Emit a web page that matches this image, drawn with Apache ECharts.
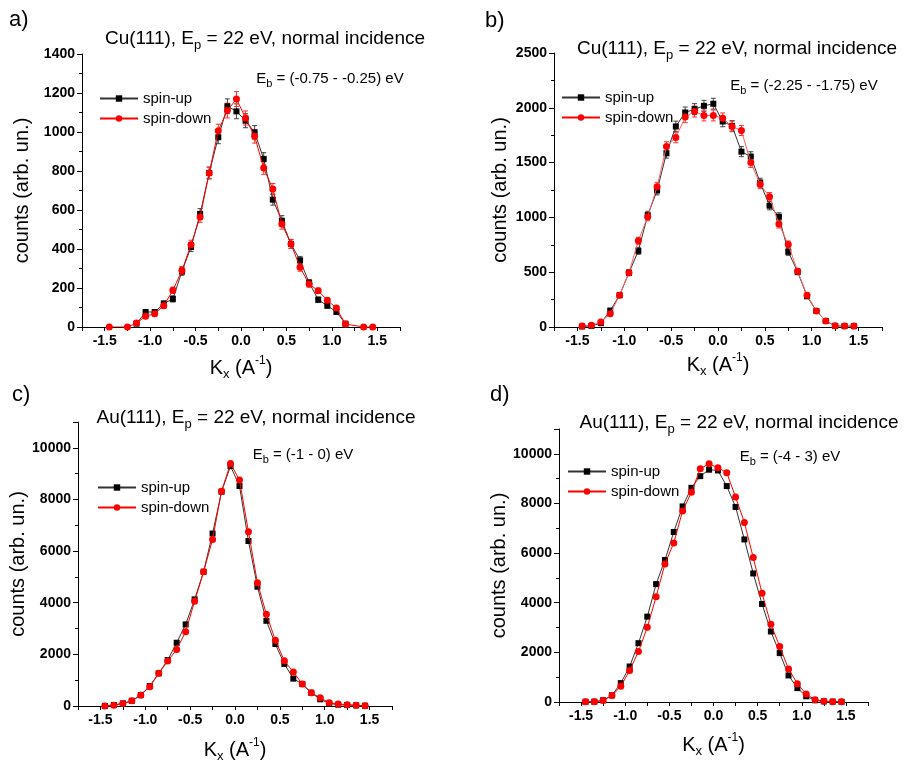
<!DOCTYPE html>
<html><head><meta charset="utf-8">
<script src="https://cdn.jsdelivr.net/npm/echarts@6/dist/echarts.min.js"></script>
<style>html,body{margin:0;padding:0;background:#fff}#c{width:911px;height:768px}</style>
</head><body><div id="c"></div><script>
// K_x sample positions (A^-1)
const xs = [-1.45,-1.35,-1.25,-1.15,-1.05,-0.95,-0.85,-0.75,-0.65,-0.55,-0.45,-0.35,-0.25,-0.15,-0.05,0.05,0.15,0.25,0.35,0.45,0.55,0.65,0.75,0.85,0.95,1.05,1.15,1.25,1.35,1.45];

// a) Cu(111), Eb = (-0.75 - -0.25) eV
const upA   = [null,null,null,17,77,77,120,144,285,410,580,790,973,1132,1106,1058,998,862,653,545,426,342,227,140,109,77,17,null,null,null];
const downA = [0,null,0,20,55,68,109,188,290,422,564,790,1007,1110,1169,1072,978,815,708,528,426,306,220,186,137,97,15,null,0,0];
const errA  = [3,3,3,6,12,12,14,16,20,23,27,30,33,38,38,36,35,32,28,26,23,20,16,14,12,10,6,3,3,3];

// b) Cu(111), Eb = (-2.25 - -1.75) eV
const upB   = [5,10,35,150,290,495,695,1020,1245,1585,1830,1957,1988,2018,2037,1875,1835,1600,1555,1317,1107,1006,686,503,280,146,55,10,8,8];
const downB = [10,15,45,120,290,495,787,1006,1280,1646,1729,1915,1966,1930,1930,1905,1830,1793,1500,1302,1189,939,753,509,290,146,55,12,10,8];
const errB  = [5,5,8,14,20,26,32,36,40,44,48,50,50,50,50,48,48,46,44,40,38,36,32,26,20,14,8,5,5,5];

// c) Au(111), Eb = (-1 - 0) eV
const upC   = [0,40,100,200,430,775,1265,1780,2450,3160,4130,5200,6680,8300,9290,8520,6390,4620,3300,2400,1630,1060,850,515,260,100,50,40,25,10];
const downC = [0,30,100,200,420,750,1270,1740,2190,2880,4060,5200,6450,8320,9390,8750,6750,4770,3550,2550,1750,1320,850,515,320,130,75,50,25,10];

// d) Au(111), Eb = (-4 - 3) eV
const upD   = [10,15,70,270,760,1430,2370,3440,4750,5720,6850,7880,8630,9100,9360,9330,8700,7860,6550,5180,3950,2840,1970,1070,560,230,70,25,15,10];
const downD = [10,15,60,260,630,1270,2030,3010,4240,5560,6410,7700,8450,9400,9600,9440,9240,8260,7230,5820,4380,3130,2240,1330,740,320,90,30,15,10];

const seriesNames = ['spin-up','spin-down'];
const panelLabels = ['a)','b)','c)','d)'];
const surfaces = ['Cu(111)','Cu(111)','Au(111)','Au(111)'];
const ebTexts = ['(-0.75 - -0.25) eV','(-2.25 - -1.75) eV','(-1 - 0) eV','(-4 - 3) eV'];
const yTickMax = [1400, 2500, 11000, 11000];
const yTickStep = [200, 500, 2000, 2000];

const FF = '"Liberation Sans", Arial, Helvetica, sans-serif';

const layout = [
  {grid:{left:82,top:54,width:318,height:273}, lab:[9,20], title:[265,39], eb:[330,79], leg:[99,91], yGap:50, xGap:28},
  {grid:{left:554,top:53,width:328,height:274}, lab:[485,21], title:[737,49], eb:[804,86], leg:[561,90], yGap:44, xGap:25},
  {grid:{left:78,top:422,width:314,height:284}, lab:[12,395], title:[256,418], eb:[303,455], leg:[97,480], yGap:44, xGap:31},
  {grid:{left:559,top:429,width:309,height:273}, lab:[490,395], title:[739,423], eb:[790,457], leg:[567,464], yGap:50, xGap:30}
];

const data = [
  {up:upA, down:downA, err:errA},
  {up:upB, down:downB, err:errB},
  {up:upC, down:downC, err:null},
  {up:upD, down:downD, err:null}
];

function pts(arr){ return xs.map((x,i)=>[x, arr[i]]).filter(d=>d[1]!=null); }
function errPts(arr, err){ return xs.map((x,i)=>[x, arr[i], err[i]]).filter(d=>d[1]!=null); }

function errRender(params, api){
  const x = api.value(0), y = api.value(1), e = api.value(2);
  const t = api.coord([x, y+e]), b = api.coord([x, y-e]);
  const w = 2.5;
  const st = {stroke: api.visual('color'), lineWidth: 1};
  return {type:'group', children:[
    {type:'line', shape:{x1:t[0],y1:t[1],x2:b[0],y2:b[1]}, style:st},
    {type:'line', shape:{x1:t[0]-w,y1:t[1],x2:t[0]+w,y2:t[1]}, style:st},
    {type:'line', shape:{x1:b[0]-w,y1:b[1],x2:b[0]+w,y2:b[1]}, style:st}
  ]};
}

const grids=[], xAxes=[], yAxes=[], series=[], legends=[], graphics=[];
const tickLabel = {fontSize:14, fontWeight:'bold', fontFamily:FF, color:'#000'};

layout.forEach((L, k) => {
  grids.push(Object.assign({outerBoundsMode:'none', containLabel:false}, L.grid));
  xAxes.push({
    type:'value', gridIndex:k, min:-1.75, max:1.75, interval:0.25,
    axisLine:{show:true, onZero:false, lineStyle:{color:'#000', width:1}},
    axisTick:{show:true, length:4, lineStyle:{color:'#000'}},
    splitLine:{show:false},
    axisLabel:Object.assign({margin:7, showMinLabel:true, showMaxLabel:true,
      formatter: v => (Math.abs(v*2 - Math.round(v*2)) < 1e-6 ? v.toFixed(1) : '')}, tickLabel),
    name:'{n|K}{s|x}{n| (A}{p|-1}{n|)}', nameLocation:'middle', nameGap:L.xGap,
    nameTextStyle:{rich:{
      n:{fontSize:20, fontFamily:FF, color:'#000', lineHeight:26},
      s:{fontSize:13, fontFamily:FF, color:'#000', lineHeight:13, padding:[13,0,0,0]},
      p:{fontSize:12, fontFamily:FF, color:'#000', lineHeight:12, padding:[0,0,14,0]}
    }}
  });
  yAxes.push({
    type:'value', gridIndex:k, min:0, max:yTickMax[k], interval:yTickStep[k],
    axisLine:{show:true, onZero:false, lineStyle:{color:'#000', width:1}},
    axisTick:{show:true, length:5, lineStyle:{color:'#000'}},
    minorTick:{show:true, splitNumber:2, length:3, lineStyle:{color:'#000'}},
    splitLine:{show:false}, minorSplitLine:{show:false},
    axisLabel:Object.assign({margin:7, showMaxLabel: yTickMax[k] % yTickStep[k] === 0,
      formatter: v => String(Math.round(v))}, tickLabel),
    name:'counts (arb. un.)', nameLocation:'middle', nameGap:L.yGap,
    nameTextStyle:{fontSize:20, fontFamily:FF, color:'#000'}
  });
  const D = data[k];
  if (D.err) {
    series.push({type:'custom', name:'err-up-'+k, xAxisIndex:k, yAxisIndex:k, z:1,
      itemStyle:{color:'#444'}, renderItem:errRender, data:errPts(D.up, D.err), silent:true});
    series.push({type:'custom', name:'err-down-'+k, xAxisIndex:k, yAxisIndex:k, z:1,
      itemStyle:{color:'#ff3030'}, renderItem:errRender, data:errPts(D.down, D.err), silent:true});
  }
  series.push({type:'line', name:seriesNames[0], xAxisIndex:k, yAxisIndex:k, z:2,
    symbol:'rect', symbolSize:6, showAllSymbol:true,
    itemStyle:{color:'#000'}, lineStyle:{color:'#333', width:1}, data:pts(D.up)});
  series.push({type:'line', name:seriesNames[1], xAxisIndex:k, yAxisIndex:k, z:3,
    symbol:'circle', symbolSize:7, showAllSymbol:true,
    itemStyle:{color:'#ff0000'}, lineStyle:{color: k===1 ? '#ff6060' : '#ff0000', width:1}, data:pts(D.down)});
  legends.push({left:L.leg[0], top:L.leg[1], orient:'vertical', itemWidth:38, itemHeight:8, itemGap:5,
    padding:0, selectedMode:false, data:seriesNames,
    textStyle:{fontSize:15, fontFamily:FF, color:'#000'}});
  graphics.push({type:'text', x:L.lab[0], y:L.lab[1],
    style:{text:panelLabels[k], fontSize:22, fontFamily:FF, fill:'#000', align:'left', verticalAlign:'middle'}});
  graphics.push({type:'text', x:L.title[0], y:L.title[1],
    style:{text:'{t|'+surfaces[k]+', E}{s|p}{t| = 22 eV, normal incidence}', align:'center', verticalAlign:'middle',
      rich:{
        t:{fontSize:19, fontFamily:FF, fill:'#000', lineHeight:24},
        s:{fontSize:13, fontFamily:FF, fill:'#000', lineHeight:13, padding:[12,0,0,0]}
      }}});
  graphics.push({type:'text', x:L.eb[0], y:L.eb[1],
    style:{text:'{t|E}{s|b}{t| = '+ebTexts[k]+'}', align:'center', verticalAlign:'middle',
      rich:{
        t:{fontSize:15, fontFamily:FF, fill:'#000', lineHeight:20},
        s:{fontSize:11, fontFamily:FF, fill:'#000', lineHeight:11, padding:[10,0,0,0]}
      }}});
});

const chart = echarts.init(document.getElementById('c'), null, {renderer:'canvas'});
chart.setOption({
  animation:false, backgroundColor:'#fff',
  grid:grids, xAxis:xAxes, yAxis:yAxes, series:series, legend:legends, graphic:graphics
});
</script></body></html>
